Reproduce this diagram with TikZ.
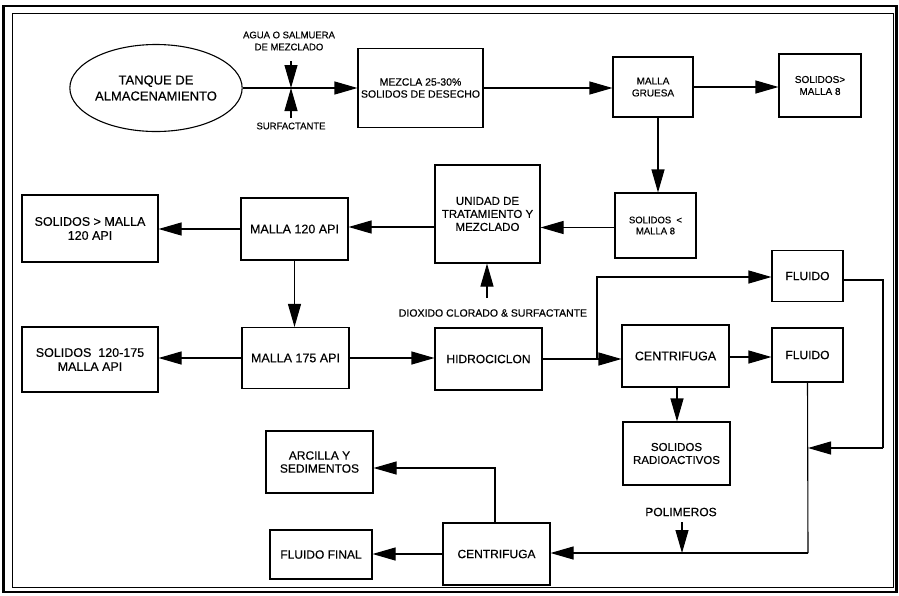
\documentclass[tikz,border=0pt]{standalone}
\usepackage{fontspec}
\setmainfont{Liberation Sans}[FakeBold=0.4]
\usetikzlibrary{arrows.meta,shapes.geometric}
\begin{document}
\begin{tikzpicture}[x=1pt,y=-1pt,
  box/.style={draw,line width=1.1pt,align=center,inner sep=1pt,font=\fontsize{12}{13}\selectfont},
  arr/.style={line width=1.1pt,-{Triangle[length=23pt,width=13pt]}},
  ln/.style={line width=1.1pt},
  lbl/.style={align=center,inner sep=0pt}]
\useasboundingbox (0,0) rectangle (899,595);
% frame
\draw[line width=2.5pt] (3.5,6) rectangle (896.5,592);
\draw[line width=0.9pt] (12,13.5) rectangle (893.5,587.5);
% nodes
\node[draw,ellipse,line width=1.1pt,minimum width=148,minimum height=87,align=center,inner sep=0pt,font=\fontsize{13}{16}\selectfont] (tank) at (156,88) {TANQUE DE\\ALMACENAMIENTO};
\node[box,minimum width=125,minimum height=79,font=\fontsize{10.5}{12}\selectfont] (mezcla) at (420.5,88) {MEZCLA 25-30\%\\SOLIDOS DE DESECHO};
\node[box,minimum width=80,minimum height=60,font=\fontsize{10}{12}\selectfont] (gruesa) at (653,87) {MALLA\\GRUESA};
\node[box,minimum width=82,minimum height=63,font=\fontsize{10}{12}\selectfont] (sol8) at (820,85.5) {SOLIDOS>\\MALLA 8};
\node[box,minimum width=81,minimum height=65,font=\fontsize{9.5}{11}\selectfont] (sol8b) at (655.5,225.5) {SOLIDOS\ \ <\\MALLA 8};
\node[box,minimum width=105,minimum height=98,font=\fontsize{11.5}{13}\selectfont] (unidad) at (487.5,214) {UNIDAD DE\\TRATAMIENTO Y\\MEZCLADO};
\node[box,minimum width=107,minimum height=62,font=\fontsize{12.5}{14}\selectfont] (m120) at (294.5,229) {MALLA 120 API};
\node[box,minimum width=136,minimum height=67,font=\fontsize{12.5}{14}\selectfont] (s120) at (90,228.5) {SOLIDOS > MALLA\\120 API};
\node[box,minimum width=107,minimum height=61,font=\fontsize{12.5}{14}\selectfont] (m175) at (295.5,358) {MALLA 175 API};
\node[box,minimum width=136,minimum height=65,font=\fontsize{12.5}{14}\selectfont] (s175) at (90,359.5) {SOLIDOS\ \ 120-175\\MALLA API};
\node[box,minimum width=107,minimum height=62] (hidro) at (488.5,359) {HIDROCICLON};
\node[box,minimum width=71,minimum height=51] (fl1) at (807.5,276) {FLUIDO};
\node[box,minimum width=107,minimum height=62,font=\fontsize{12.5}{14}\selectfont] (cen1) at (675.5,356) {CENTRIFUGA};
\node[box,minimum width=71,minimum height=54] (fl2) at (807.5,355) {FLUIDO};
\node[box,minimum width=107,minimum height=63,font=\fontsize{11.5}{13}\selectfont] (srad) at (676.5,453.5) {SOLIDOS\\RADIOACTIVOS};
\node[box,minimum width=107,minimum height=62] (cen2) at (496.5,554) {CENTRIFUGA};
\node[box,minimum width=102,minimum height=49] (ffinal) at (321,554.5) {FLUIDO FINAL};
\node[box,minimum width=107,minimum height=62] (arcilla) at (319.5,462) {ARCILLA Y\\SEDIMENTOS};
% labels
\node[lbl,font=\fontsize{9.5}{12}\selectfont] (agua) at (289,41) {AGUA O SALMUERA\\DE MEZCLADO};
\node[lbl,font=\fontsize{9.5}{11}\selectfont] (surf) at (291,126) {SURFACTANTE};
\node[lbl,font=\fontsize{10.5}{12}\selectfont] (diox) at (493,313) {DIOXIDO CLORADO \& SURFACTANTE};
\node[lbl,font=\fontsize{12}{13}\selectfont] (polim) at (681,512) {POLIMEROS};
% coordinates
\coordinate (mix) at (291,88);
\coordinate (mixtop) at (291,61);
\coordinate (mixbot) at (291,118);
\coordinate (dioxtop) at (487,298);
\coordinate (hj) at (597,359);
\coordinate (fr2) at (883,448);
\coordinate (fv) at (808,448);
\coordinate (fb) at (808,553);
\coordinate (poltop) at (682,522);
\coordinate (polbot) at (682,553);
% connectors
\draw[arr] (tank.east) -- (mezcla.west);
\draw[arr] (mixtop) -- (mix);
\draw[arr] (mixbot) -- (mix);
\draw[arr] (mezcla.east) -- (gruesa.west |- mezcla.east);
\draw[arr] (gruesa.east) -- (sol8.west |- gruesa.east);
\draw[arr] ([xshift=5pt]gruesa.south) -- ([xshift=5pt]gruesa.south |- sol8b.north);
\draw[arr] ([yshift=-2pt]sol8b.west) -- ([yshift=-2pt]sol8b.west -| unidad.east);
\draw[arr] ([yshift=2pt]m120.east -| unidad.west) -- ([yshift=2pt]m120.east);
\draw[arr] (m120.west) -- (m120.west -| s120.east);
\draw[arr] (m120.south) -- (m120.south |- m175.north);
\draw[arr] (m175.west) -- (m175.west -| s175.east);
\draw[arr] (m175.east) -- (m175.east -| hidro.west);
\draw[arr] (dioxtop) -- (dioxtop |- unidad.south);
\draw[ln] (hidro.east) -- (hj);
\draw[arr] (hj) -- (hj -| cen1.west);
\draw[arr] (hj) |- ([yshift=-1pt]fl1.west);
\draw[arr] ([yshift=-1pt]cen1.east) -- ([yshift=-1pt]cen1.east -| fl2.west);
\draw[arr] ([xshift=1.5pt]cen1.south) -- ([xshift=1.5pt]cen1.south |- srad.north);
\draw[ln] ([yshift=-4pt]fl1.east) -| (fr2);
\draw[arr] (fr2) -- (fv);
\draw[ln] (fl2.south) -- (fb);
\draw[arr] (fb) -- (fb -| cen2.east);
\draw[arr] (poltop) -- (polbot);
\draw[arr] (cen2.west) -- (cen2.west -| ffinal.east);
\draw[arr] ([xshift=-1.5pt]cen2.north) |- ([yshift=-6pt]arcilla.east);
\end{tikzpicture}
\end{document}
